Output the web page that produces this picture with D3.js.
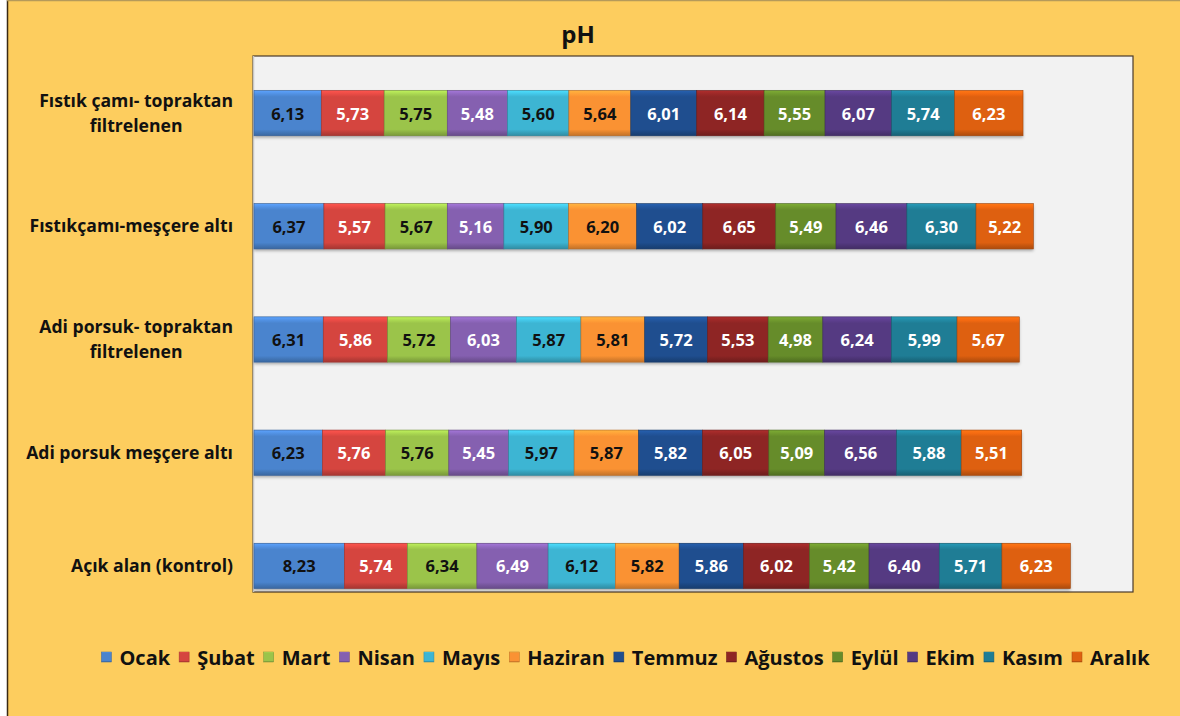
<!DOCTYPE html>
<html><head><meta charset="utf-8">
<script src="https://cdn.jsdelivr.net/npm/d3@7/dist/d3.min.js"></script>
<style>html,body{margin:0;padding:0;background:#fff;}svg{display:block;}</style>
</head><body>
<svg id="c" width="1180" height="716"></svg>
<script>
const title = "pH";
const categories = [
  "Fıstık çamı- topraktan\nfiltrelenen",
  "Fıstıkçamı-meşçere altı",
  "Adi porsuk- topraktan\nfiltrelenen",
  "Adi porsuk meşçere altı",
  "Açık alan (kontrol)"
];
const months = ["Ocak","Şubat","Mart","Nisan","Mayıs","Haziran","Temmuz","Ağustos","Eylül","Ekim","Kasım","Aralık"];
// values per month, in category order (top to bottom)
const seriesValues = [
  [6.13, 6.37, 6.31, 6.23, 8.23], // Ocak
  [5.73, 5.57, 5.86, 5.76, 5.74], // Şubat
  [5.75, 5.67, 5.72, 5.76, 6.34], // Mart
  [5.48, 5.16, 6.03, 5.45, 6.49], // Nisan
  [5.60, 5.90, 5.87, 5.97, 6.12], // Mayıs
  [5.64, 6.20, 5.81, 5.87, 5.82], // Haziran
  [6.01, 6.02, 5.72, 5.82, 5.86], // Temmuz
  [6.14, 6.65, 5.53, 6.05, 6.02], // Ağustos
  [5.55, 5.49, 4.98, 5.09, 5.42], // Eylül
  [6.07, 6.46, 6.24, 6.56, 6.40], // Ekim
  [5.74, 6.30, 5.99, 5.88, 5.71], // Kasım
  [6.23, 5.22, 5.67, 5.51, 6.23]  // Aralık
];
const colors = ["#4A84CE","#D5453F","#9BC44A","#8560B0","#3DB5D3","#FA9233","#1F4E8F","#8E2524","#668C2A","#553A82","#1F7D95","#DE6010"];
const labelColors = ["#111","#fff","#111","#fff","#111","#111","#fff","#fff","#fff","#fff","#fff","#fff"];

const svg = d3.select("#c");
const FONT = "'Open Sans', Lato, sans-serif";

// background
svg.append("rect").attr("x",7).attr("y",0).attr("width",1173).attr("height",716).attr("fill","#FDCD5E");
svg.append("line").attr("x1",7.5).attr("x2",7.5).attr("y1",0).attr("y2",716).attr("stroke","#3a2a14").attr("stroke-width",1.5);
svg.append("line").attr("x1",7).attr("x2",1180).attr("y1",0.5).attr("y2",0.5).attr("stroke","#b59a5a").attr("stroke-width",1.5);

// plot area
const plot = {x0:253, x1:1133, y0:56, y1:592};
svg.append("rect").attr("x",plot.x0).attr("y",plot.y0).attr("width",plot.x1-plot.x0).attr("height",plot.y1-plot.y0)
  .attr("fill","#F2F2F2").attr("stroke","#4a3a2a").attr("stroke-width",1.2);
svg.append("line").attr("x1",plot.x0+0.5).attr("x2",plot.x0+0.5).attr("y1",plot.y0).attr("y2",plot.y1)
  .attr("stroke","#c8c8c8").attr("stroke-width",1.5);

// scales
const x = d3.scaleLinear().domain([0,80]).range([254,1132]);
const y = d3.scaleBand().domain(categories).range([56.5,622.5]).paddingInner(0.6).paddingOuter(0.3);

// gradients
const defs = svg.append("defs");
colors.forEach((c,i)=>{
  const g = defs.append("linearGradient").attr("id","g"+i).attr("x1",0).attr("x2",0).attr("y1",0).attr("y2",1);
  const base = d3.color(c);
  g.append("stop").attr("offset","0%").attr("stop-color",d3.color(c).brighter(0.6));
  g.append("stop").attr("offset","8%").attr("stop-color",d3.color(c).brighter(0.25));
  g.append("stop").attr("offset","14%").attr("stop-color",base);
  g.append("stop").attr("offset","86%").attr("stop-color",base);
  g.append("stop").attr("offset","93%").attr("stop-color",d3.color(c).darker(0.35));
  g.append("stop").attr("offset","100%").attr("stop-color",d3.color(c).darker(0.7));
});
const f = defs.append("filter").attr("id","sh").attr("x","-5%").attr("y","-20%").attr("width","110%").attr("height","150%");
f.append("feDropShadow").attr("dx",0).attr("dy",2).attr("stdDeviation",1.5).attr("flood-color","#000").attr("flood-opacity",0.3);

// stack
const rows = categories.map((cat,ci)=>{
  const o = {cat};
  months.forEach((m,mi)=>o[m]=seriesValues[mi][ci]);
  return o;
});
const stack = d3.stack().keys(months)(rows);

const bars = svg.append("g");
categories.forEach(cat=>{
  bars.append("rect").attr("x",x(0)).attr("y",y(cat)).attr("height",y.bandwidth())
    .attr("width", x(d3.sum(months,(m,mi)=>seriesValues[mi][categories.indexOf(cat)]))-x(0))
    .attr("fill","#999").attr("filter","url(#sh)");
});
stack.forEach((layer,li)=>{
  const g = bars.append("g");
  g.selectAll("rect").data(layer).join("rect")
    .attr("x",d=>x(d[0])).attr("y",d=>y(d.data.cat))
    .attr("width",d=>x(d[1])-x(d[0])).attr("height",y.bandwidth())
    .attr("fill","url(#g"+li+")").attr("stroke",d3.color(colors[li]).darker(0.8)).attr("stroke-width",0.6);
  g.selectAll("text").data(layer).join("text")
    .attr("x",d=>(x(d[0])+x(d[1]))/2).attr("y",d=>y(d.data.cat)+y.bandwidth()/2)
    .attr("text-anchor","middle").attr("dominant-baseline","central")
    .attr("font-family",FONT).attr("font-weight","bold").attr("font-size","16.5px")
    .attr("fill",labelColors[li])
    .text(d=>(d[1]-d[0]).toFixed(2).replace(".",","));
});

// category labels
const right = 233;
categories.forEach(cat=>{
  const lines = cat.split("\n");
  const cy = y(cat)+y.bandwidth()/2;
  const lh = 25;
  const t = svg.append("text").attr("font-family",FONT).attr("font-weight","bold").attr("font-size","17.6px")
    .attr("fill","#111").attr("text-anchor","middle");
  const spans = lines.map((l,i)=>t.append("tspan").attr("y",cy+(i-(lines.length-1)/2)*lh).attr("dy","0.35em").text(l));
  let w = 0;
  spans.forEach(s=>{w=Math.max(w,s.node().getComputedTextLength());});
  spans.forEach(s=>s.attr("x",right-w/2));
});

// title
svg.append("text").attr("x",578).attr("y",33).attr("text-anchor","middle").attr("dominant-baseline","central")
  .attr("font-family",FONT).attr("font-weight","bold").attr("font-size","24px").attr("fill","#111").text(title);

// legend
const lg = svg.append("g");
let lx = 0;
const items = months.map((m,i)=>{
  const g = lg.append("g");
  g.append("rect").attr("x",0).attr("y",-5).attr("width",10).attr("height",10).attr("fill","url(#g"+i+")")
    .attr("stroke",d3.color(colors[i]).darker(0.8)).attr("stroke-width",0.5);
  const t = g.append("text").attr("x",18).attr("y",0).attr("dominant-baseline","central")
    .attr("font-family",FONT).attr("font-weight","bold").attr("font-size","20px").attr("fill","#111").text(m);
  const w = 18 + t.node().getComputedTextLength();
  g.attr("transform",`translate(${lx},0)`);
  lx += w + 9;
  return g;
});
const totalW = lx - 9;
lg.attr("transform",`translate(${625.5-totalW/2},657)`);
</script>
</body></html>
